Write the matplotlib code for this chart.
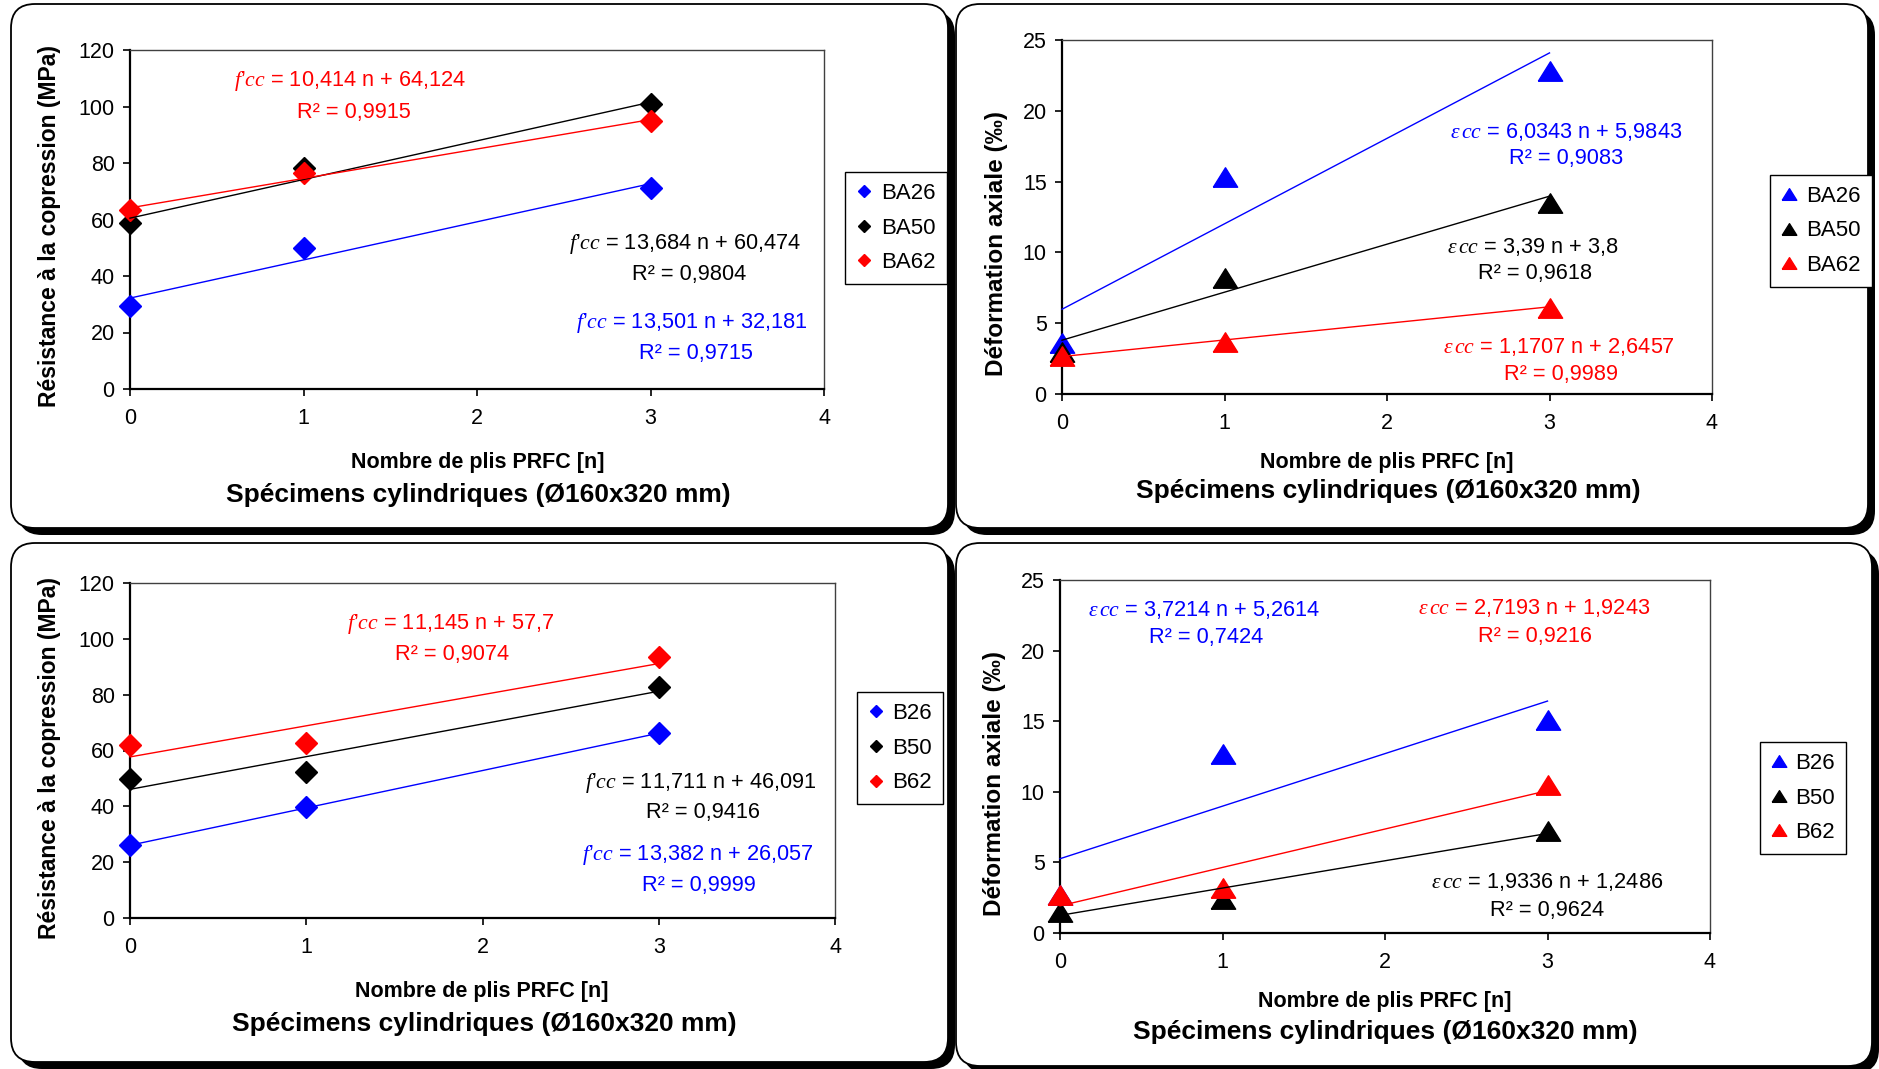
import matplotlib
matplotlib.use('Agg')
import matplotlib.pyplot as plt
from matplotlib.patches import FancyBboxPatch
import numpy as np

plt.rcParams['font.family'] = ['Liberation Sans', 'DejaVu Sans']
plt.rcParams['mathtext.fontset'] = 'custom'
plt.rcParams['mathtext.it'] = 'Liberation Serif:italic'
plt.rcParams['mathtext.rm'] = 'Liberation Sans'
plt.rcParams['mathtext.bf'] = 'Liberation Sans:bold'

# ---------------- data ----------------
n_plis = [0, 1, 3]
x_ticks = [0, 1, 2, 3, 4]
fcc_ticks = [0, 20, 40, 60, 80, 100, 120]
eps_ticks = [0, 5, 10, 15, 20, 25]

series_BA = ["BA26", "BA50", "BA62"]
series_B = ["B26", "B50", "B62"]

fcc_BA26 = [29.4, 50.0, 71.3]
fcc_BA50 = [58.6, 78.4, 100.8]
fcc_BA62 = [63.3, 76.6, 94.8]

eps_BA26 = [3.6, 15.3, 22.8]
eps_BA50 = [3.0, 8.2, 13.5]
eps_BA62 = [2.7, 3.7, 6.1]

fcc_B26 = [26.0, 39.6, 66.3]
fcc_B50 = [49.7, 52.4, 82.6]
fcc_B62 = [61.8, 62.8, 93.6]

eps_B26 = [2.7, 12.7, 15.1]
eps_B50 = [1.5, 2.4, 7.2]
eps_B62 = [2.7, 3.2, 10.5]

# trend line coefficients (slope, intercept, R2) as printed
fit_fcc_BA = [("13,501", "32,181", "0,9715"), ("13,684", "60,474", "0,9804"), ("10,414", "64,124", "0,9915")]
fit_eps_BA = [("6,0343", "5,9843", "0,9083"), ("3,39", "3,8", "0,9618"), ("1,1707", "2,6457", "0,9989")]
fit_fcc_B = [("13,382", "26,057", "0,9999"), ("11,711", "46,091", "0,9416"), ("11,145", "57,7", "0,9074")]
fit_eps_B = [("3,7214", "5,2614", "0,7424"), ("1,9336", "1,2486", "0,9624"), ("2,7193", "1,9243", "0,9216")]

colors = ['#0000FF', '#000000', '#FF0000']

xlabel = "Nombre de plis PRFC [n]"
title = "Spécimens cylindriques (Ø160x320 mm)"
ylabel_fcc = "Résistance à la copression (MPa)"
ylabel_eps = "Déformation axiale (‰)"

# ---------------- figure ----------------
W, H = 1879, 1069
fig = plt.figure(figsize=(W / 100, H / 100), dpi=100)

bg = fig.add_axes([0, 0, 1, 1], zorder=-10)
bg.set_xlim(0, W)
bg.set_ylim(H, 0)
bg.axis('off')


def panel(x0, y0, x1, y1):
    sh = FancyBboxPatch((x0 + 7, y0 + 7), x1 - x0, y1 - y0,
                        boxstyle='round,pad=0,rounding_size=24', fc='black', ec='black', lw=0)
    bx = FancyBboxPatch((x0, y0), x1 - x0, y1 - y0,
                        boxstyle='round,pad=0,rounding_size=24', fc='white', ec='black', lw=1.3)
    bg.add_patch(sh)
    bg.add_patch(bx)


panel(11, 4, 948, 528)
panel(956, 4, 1868, 528)
panel(11, 543, 948, 1062)
panel(956, 543, 1872, 1066)


def px(x, y):
    return x / W, 1 - y / H


def add_ax(l, t, r, b):
    return fig.add_axes([l / W, 1 - b / H, (r - l) / W, (b - t) / H])


tri = [(-1, -0.8), (1, -0.8), (0, 0.8), (-1, -0.8)]


def num(s):
    return float(s.replace(',', '.'))


def make(ax, ydata, names, fits, ymax, yticks, marker, ms, sym, eqpos, legc, ylab, ylabsize, ylabpos,
         xlabpos, titlepos):
    ax.set_xlim(0, 4)
    ax.set_ylim(0, ymax)
    ax.set_xticks(x_ticks)
    ax.set_yticks(yticks)
    for s in ['top', 'right']:
        ax.spines[s].set_color('#404040')
        ax.spines[s].set_linewidth(1.0)
    for s in ['left', 'bottom']:
        ax.spines[s].set_color('black')
        ax.spines[s].set_linewidth(1.6)
    ax.tick_params(direction='out', length=5, width=1.2, labelsize=15.5)
    ax.tick_params(axis='x', pad=8.5)
    ax.tick_params(axis='y', pad=6)
    handles = []
    for yd, nm, c in zip(ydata, names, colors):
        h, = ax.plot(n_plis, yd, linestyle='none', marker=marker, ms=ms, mfc=c, mec=c,
                     clip_on=False, zorder=3, label=nm)
        handles.append(h)
    xx = np.array([0, 3])
    for (a, b, r2), c in zip(fits, colors):
        ax.plot(xx, num(a) * xx + num(b), color=c, lw=1.0, zorder=4, clip_on=False)
    for (a, b, r2), c, (ex, ey, rx, ry) in zip(fits, colors, eqpos):
        ax.text(ex, ey, r"$\mathit{" + sym + "}$" + f" = {a} n + {b}", color=c, fontsize=15.7,
                ha='center', va='center')
        ax.text(rx, ry, f"R² = {r2}", color=c, fontsize=15.7, ha='center', va='center')
    leg = ax.legend(handles=handles, loc='center', bbox_to_anchor=px(*legc), bbox_transform=fig.transFigure,
                    frameon=True, fancybox=False, framealpha=1, edgecolor='black', fontsize=16,
                    markerscale=0.6, handlelength=0.7, handletextpad=0.4, labelspacing=0.62,
                    borderpad=0.5)
    leg.get_frame().set_linewidth(1.0)
    fig.text(*px(*ylabpos), ylab, rotation=90, ha='center', va='center', fontsize=ylabsize, fontweight='bold')
    fig.text(*px(*xlabpos), xlabel, ha='center', va='center', fontsize=15.5, fontweight='bold')
    fig.text(*px(*titlepos), title, ha='center', va='center', fontsize=19, fontweight='bold')


ax1 = add_ax(130, 50, 824, 389)
make(ax1, [fcc_BA26, fcc_BA50, fcc_BA62], series_BA, fit_fcc_BA, 120, fcc_ticks, 'D', 10.8, "f’cc",
     [(3.24, 23.4, 3.26, 12.7), (3.2, 51.3, 3.22, 40.4), (1.27, 109, 1.29, 98)],
     (896, 228), ylabel_fcc, 16.5, (50, 226), (478, 462), (478, 495))

ax2 = add_ax(1062, 40, 1712, 394)
make(ax2, [eps_BA26, eps_BA50, eps_BA62], series_BA, fit_eps_BA, 25, eps_ticks, tri, 17.5, r"ε\,cc",
     [(3.10, 18.5, 3.10, 16.6), (2.90, 10.4, 2.91, 8.5), (3.06, 3.35, 3.07, 1.36)],
     (1821, 231), ylabel_eps, 17.5, (997, 244), (1387, 462), (1388, 491))

ax3 = add_ax(130, 583, 835, 918)
make(ax3, [fcc_B26, fcc_B50, fcc_B62], series_B, fit_fcc_B, 120, fcc_ticks, 'D', 10.8, "f’cc",
     [(3.22, 22.6, 3.23, 11.8), (3.24, 48.5, 3.25, 37.7), (1.82, 105.4, 1.83, 94.3)],
     (900, 748), ylabel_fcc, 16.5, (50, 758), (482, 991), (484, 1024))

ax4 = add_ax(1060, 580, 1710, 933)
make(ax4, [eps_B26, eps_B50, eps_B62], series_B, fit_eps_B, 25, eps_ticks, tri, 17.5, r"ε\,cc",
     [(0.89, 22.9, 0.90, 20.9), (3.0, 3.6, 3.0, 1.6), (2.92, 23.0, 2.92, 21.0)],
     (1803, 798), ylabel_eps, 17.5, (995, 783), (1385, 1002), (1385, 1032))

fig.savefig('out.png', dpi=100)
